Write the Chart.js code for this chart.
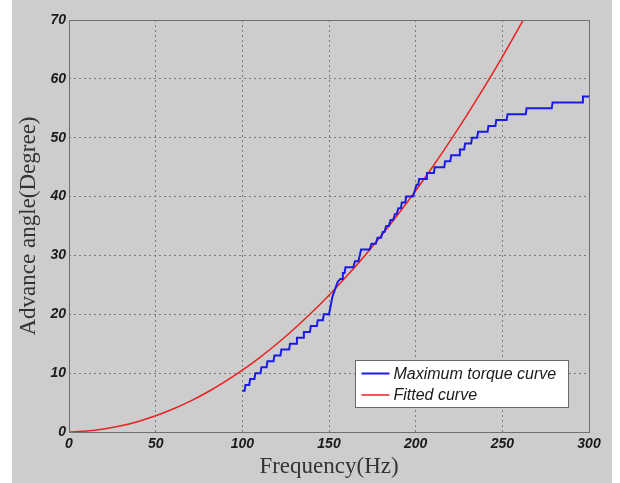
<!DOCTYPE html>
<html>
<head>
<meta charset="utf-8">
<script src="https://cdn.jsdelivr.net/npm/chart.js@4/dist/chart.umd.min.js"></script>
<style>
  html, body { margin: 0; padding: 0; background: #ffffff; }
  #wrap { position: absolute; left: 12px; top: 0; width: 600px; height: 483px; background: #cdcdcd; }
  canvas { display: block; }
</style>
</head>
<body>
<div id="wrap"><canvas id="c" width="600" height="483"></canvas></div>
<script>
// ---- data ----
const xTicks = [0, 50, 100, 150, 200, 250, 300];
const yTicks = [0, 10, 20, 30, 40, 50, 60, 70];

// Maximum torque curve (staircase corners)
const torqueFreq = [
  100, 101.3, 101.8, 104, 104.5, 107, 107.5, 110.5, 111, 114, 114.5, 118, 118.5, 122,
  122.5, 127, 127.5, 131, 131.5, 135, 135.5, 139, 139.5, 143, 143.5, 146.5, 147, 150,
  152, 155, 156.5, 157.5, 158, 159, 159.5, 164, 165, 167, 168.5, 173.5, 174.5, 177,
  178, 180, 181, 182, 183, 184.5, 185.5, 187, 188, 189, 190, 191.5, 192, 194, 194.5, 198.5,
  200.5, 201.5, 202, 206, 206.5, 210.5, 211, 216.5, 217, 220, 220.5, 225, 225.5, 228,
  228.5, 232, 232.5, 235.5, 236, 241.5, 242, 246, 246.5, 252.5, 253, 263.5, 264, 278.5,
  279, 296, 296.5, 300
];
const torqueAngle = [
  7, 7, 8, 8, 9, 9, 10, 10, 11, 11, 12, 12, 13, 13,
  14, 14, 15, 15, 16, 16, 17, 17, 18, 18, 19, 19, 20, 20,
  23, 25.5, 26, 26, 27, 27, 28, 28, 29, 29, 31, 31, 32, 32,
  33, 33, 34, 34, 35, 35, 36, 36, 37, 37, 38, 38, 39, 39, 40, 40,
  42, 42, 43, 43, 44, 44, 45, 45, 46, 46, 47, 47, 48, 48,
  49, 49, 50, 50, 51, 51, 52, 52, 53, 53, 54, 54, 55, 55,
  56, 56, 57, 57
];

// Fitted curve
const fitFreq  = [0, 10, 20, 30, 40, 50, 60, 70, 80, 90, 100, 110, 120, 130, 140, 150, 160, 170, 180, 190, 200, 210, 220, 230, 240, 250, 260, 270];
const fitAngle = [0, 0.15, 0.5, 1.05, 1.8, 2.75, 3.9, 5.25, 6.8, 8.55, 10.5, 12.65, 15.0, 17.55, 20.3, 23.25, 26.4, 29.75, 33.3, 37.05, 41.0, 45.15, 49.5, 54.05, 58.8, 63.75, 68.9, 74.25];

const seriesNames = ['Maximum torque curve', 'Fitted curve'];
const xTitle = 'Frequency(Hz)';
const yTitle = 'Advance angle(Degree)';

// ---- chart ----
const toPts = (xs, ys) => xs.map((x, i) => ({ x: x, y: ys[i] }));

const tickFont = { family: '"Liberation Sans", Arial, sans-serif', size: 14, style: 'italic', weight: 'bold' };
const titleFont = { family: '"Liberation Serif", "Times New Roman", serif', size: 23 };

const frameAndLegend = {
  id: 'frameAndLegend',
  afterDatasetsDraw(chart) {
    const { ctx, chartArea: a } = chart;
    ctx.save();
    // plot frame
    ctx.strokeStyle = '#707070';
    ctx.lineWidth = 1;
    ctx.strokeRect(Math.round(a.left) + 0.5, Math.round(a.top) + 0.5,
                   Math.round(a.right - a.left), Math.round(a.bottom - a.top));
    // legend box
    const bw = 213, bh = 47;
    const bx = Math.round(a.right - 21 - bw) + 0.5;
    const by = Math.round(a.bottom - 25 - bh) + 0.5;
    ctx.fillStyle = '#ffffff';
    ctx.fillRect(bx, by, bw, bh);
    ctx.strokeStyle = '#6a6a6a';
    ctx.strokeRect(bx, by, bw, bh);
    ctx.font = 'italic 16px "Liberation Sans", Arial, sans-serif';
    ctx.textBaseline = 'middle';
    chart.data.datasets.forEach((ds, i) => {
      const y = by + 13 + i * 21.5;
      ctx.strokeStyle = ds.borderColor;
      ctx.lineWidth = ds.borderWidth;
      ctx.beginPath();
      ctx.moveTo(bx + 6, y);
      ctx.lineTo(bx + 34, y);
      ctx.stroke();
      ctx.fillStyle = '#1a1a1a';
      ctx.fillText(ds.label, bx + 38, y + 1);
    });
    ctx.restore();
  }
};

new Chart(document.getElementById('c'), {
  type: 'line',
  data: {
    datasets: [
      {
        label: seriesNames[0],
        data: toPts(torqueFreq, torqueAngle),
        borderColor: '#1a1ae6',
        borderWidth: 2,
        pointRadius: 0,
        tension: 0,
        clip: 0
      },
      {
        label: seriesNames[1],
        data: toPts(fitFreq, fitAngle),
        borderColor: '#ec2020',
        borderWidth: 1.5,
        pointRadius: 0,
        cubicInterpolationMode: 'monotone',
        clip: 0
      }
    ]
  },
  options: {
    responsive: false,
    animation: false,
    layout: { padding: { left: 0, right: 23, top: 20, bottom: 0 } },
    plugins: { legend: { display: false }, tooltip: { enabled: false } },
    scales: {
      x: {
        type: 'linear',
        min: 0, max: 300,
        afterBuildTicks: (s) => { s.ticks = xTicks.map(v => ({ value: v })); },
        afterFit: (s) => { s.height = 51; },
        grid: { color: '#7a7a7a', lineWidth: 1, drawTicks: false },
        border: { display: false, dash: [2, 3] },
        ticks: { font: tickFont, color: '#1a1a1a', padding: 4, maxRotation: 0 },
        title: { display: true, text: xTitle, font: titleFont, color: '#333333', padding: { top: 0, bottom: 2 } }
      },
      y: {
        type: 'linear',
        min: 0, max: 70,
        afterBuildTicks: (s) => { s.ticks = yTicks.map(v => ({ value: v })); },
        afterFit: (s) => { s.width = 57; },
        grid: { color: '#7a7a7a', lineWidth: 1, drawTicks: false },
        border: { display: false, dash: [2, 3] },
        ticks: { font: tickFont, color: '#1a1a1a', padding: 3 },
        title: { display: true, text: yTitle, font: titleFont, color: '#333333', padding: { top: 3, bottom: 0 } }
      }
    }
  },
  plugins: [frameAndLegend]
});
</script>
</body>
</html>
